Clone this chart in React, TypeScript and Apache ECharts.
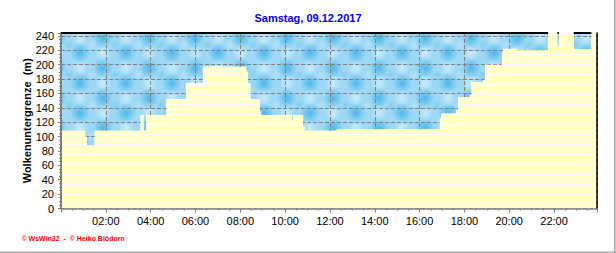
import React, { useEffect, useRef } from 'react';
import * as echarts from 'echarts';

// ---- data -----------------------------------------------------------
const TITLE = 'Samstag, 09.12.2017';
const Y_NAME = 'Wolkenuntergrenze  (m)';
const CREDIT = '\u00A9 WsWin32  -  \u00A9 Heiko Bl\u00F6dorn';

// change points of the cloud base (time of day) and the base height in m;
// null = no cloud base within range
const TIMES = [
  '00:00', '01:05', '01:09', '01:30', '03:33', '03:41', '03:48', '04:42',
  '05:35', '06:20', '08:16', '08:20', '08:27', '08:52', '08:56', '10:17',
  '10:21', '10:48', '10:52', '12:18', '16:54', '16:58', '17:38', '17:43',
  '18:14', '18:19', '18:50', '18:55', '19:41', '19:43', '20:19', '21:44',
  '22:09', '22:13', '22:53', '23:40', '23:55',
];
const CLOUD_BASE_M: (number | null)[] = [
  108, 100, 88, 108, 130, 108, 130, 152,
  174, 197, 190, 174, 152, 135, 130, 123,
  130, 114, 108, 110, 125, 132, 137, 155,
  158, 176, 179, 200, 218, 222, 220, null,
  226, null, 221, null, null,
];
const X_TICK_LABELS = ['02:00', '04:00', '06:00', '08:00', '10:00', '12:00', '14:00', '16:00', '18:00', '20:00', '22:00'];
const Y_TICK_LABELS = ['0', '20', '40', '60', '80', '100', '120', '140', '160', '180', '200', '220', '240'];

const Y_MAX = 244;
const X_END = '23:55';

const FONT = '"Liberation Sans", Arial, sans-serif';

function toHours(s: string): number {
  const [h, m] = s.split(':').map(Number);
  return h + m / 60;
}

function makeCloudTile(): HTMLCanvasElement {
  const W = 46, H = 30;
  const c = document.createElement('canvas');
  c.width = W;
  c.height = H;
  const ctx = c.getContext('2d')!;
  ctx.fillStyle = '#9ed8f5';
  ctx.fillRect(0, 0, W, H);
  const blobs: [number, number, number, number[], number][] = [
    [11, 8, 10, [52, 172, 230], 0.75],
    [34, 23, 10, [52, 172, 230], 0.75],
    [34, 8, 8, [218, 242, 253], 0.75],
    [11, 23, 8, [218, 242, 253], 0.75],
    [23, 15, 5, [110, 196, 238], 0.6],
    [0, 15, 5, [195, 232, 250], 0.6],
  ];
  for (const [bx, by, r, rgb, a] of blobs) {
    for (const dx of [-W, 0, W]) {
      for (const dy of [-H, 0, H]) {
        const x = bx + dx, y = by + dy;
        const g = ctx.createRadialGradient(x, y, 0, x, y, r);
        g.addColorStop(0, `rgba(${rgb[0]},${rgb[1]},${rgb[2]},${a})`);
        g.addColorStop(1, `rgba(${rgb[0]},${rgb[1]},${rgb[2]},0)`);
        ctx.fillStyle = g;
        ctx.fillRect(x - r, y - r, 2 * r, 2 * r);
      }
    }
  }
  return c;
}

function makeYellowTile(): HTMLCanvasElement {
  const c = document.createElement('canvas');
  c.width = 2;
  c.height = 5;
  const ctx = c.getContext('2d')!;
  ctx.fillStyle = '#ffffff';
  ctx.fillRect(0, 0, 2, 5);
  ctx.fillStyle = '#ffffc4';
  ctx.fillRect(0, 0, 1, 4);
  return c;
}

export default function App() {
  const ref = useRef<HTMLDivElement>(null);

  useEffect(() => {
    document.body.style.margin = '0';
    if (!ref.current) return;
    const chart = echarts.init(ref.current, null, { renderer: 'svg' });

    const xs = TIMES.map(toHours);
    const xMax = toHours(X_END);
    const fill = xs.map((t, i) => [t, CLOUD_BASE_M[i] == null ? Y_MAX : CLOUD_BASE_M[i]]);
    const top: (number | null)[][] = [];
    for (let i = 0; i < xs.length - 1; i++) {
      if (CLOUD_BASE_M[i] != null) {
        top.push([xs[i], Y_MAX], [xs[i + 1], Y_MAX]);
      } else {
        top.push([xs[i], null]);
      }
    }

    const cloudPattern = { image: makeCloudTile(), repeat: 'repeat' };
    const yellowPattern = { image: makeYellowTile(), repeat: 'repeat' };

    const xFmt = (v: number) => {
      const h = Math.round(v);
      if (Math.abs(v - h) > 1e-6) return '';
      const s = String(h).padStart(2, '0') + ':00';
      return X_TICK_LABELS.includes(s) ? s : '';
    };
    const yFmt = (v: number) => (Y_TICK_LABELS.includes(String(v)) ? String(v) : '');

    const grey = '#808080';
    const option: any = {
      animation: false,
      backgroundColor: '#ffffff',
      textStyle: { fontFamily: FONT },
      title: {
        text: TITLE,
        left: 'center',
        top: 7,
        textStyle: { color: '#0000ff', fontSize: 11, fontWeight: 'bold', fontFamily: FONT },
      },
      grid: { left: 61, right: 19, top: 33, bottom: 44.5 },
      xAxis: [
        {
          type: 'value', min: 0, max: xMax, interval: 2, position: 'bottom', z: 2,
          axisLine: { show: false }, axisTick: { show: false }, axisLabel: { show: false },
          splitLine: { show: true, lineStyle: { color: grey, type: [4, 2], width: 1 } },
        },
        {
          type: 'value', min: 0, max: xMax, interval: 2, position: 'bottom', z: 5,
          axisLine: { show: true, onZero: false, lineStyle: { color: grey, width: 1.5 } },
          axisTick: { show: true, length: 4, lineStyle: { color: grey } },
          minorTick: { show: true, splitNumber: 4, length: 2, lineStyle: { color: grey } },
          axisLabel: { formatter: xFmt, color: '#000', fontSize: 11, margin: 7, fontFamily: FONT },
          splitLine: { show: false },
        },
      ],
      yAxis: [
        {
          type: 'value', min: 0, max: Y_MAX, interval: 20, position: 'left', z: 2,
          axisLine: { show: false }, axisTick: { show: false }, axisLabel: { show: false },
          splitLine: { show: true, lineStyle: { color: grey, type: [4, 2], width: 1 } },
        },
        {
          type: 'value', min: 0, max: Y_MAX, interval: 20, position: 'left', z: 5,
          name: Y_NAME, nameLocation: 'middle', nameGap: 29, nameMoveOverlap: false,
          nameTextStyle: { color: '#000', fontSize: 11, fontWeight: 'bold', fontFamily: FONT },
          axisLine: { show: true, onZero: false, lineStyle: { color: grey, width: 2 } },
          axisTick: { show: true, length: 3, lineStyle: { color: grey } },
          minorTick: { show: true, splitNumber: 4, length: 2, lineStyle: { color: grey } },
          axisLabel: { formatter: yFmt, color: '#000', fontSize: 11, margin: 7, fontFamily: FONT, showMaxLabel: false },
          splitLine: { show: false },
        },
        {
          type: 'value', min: 0, max: Y_MAX, position: 'right', z: 5,
          axisLine: { show: true, onZero: false, lineStyle: { color: '#000', width: 1.5 } },
          axisTick: { show: false }, axisLabel: { show: false }, splitLine: { show: false },
        },
      ],
      series: [
        {
          type: 'line', name: 'Wolken', xAxisIndex: 0, yAxisIndex: 0, step: 'end',
          data: fill, symbol: 'none', silent: true, z: 1,
          lineStyle: { width: 0, opacity: 0 },
          areaStyle: { color: cloudPattern, opacity: 1, origin: 'end' },
        },
        {
          type: 'line', name: 'frei', xAxisIndex: 0, yAxisIndex: 0, step: 'end',
          data: fill, symbol: 'none', silent: true, z: 3,
          lineStyle: { width: 0, opacity: 0 },
          areaStyle: { color: yellowPattern, opacity: 1, origin: 'start' },
        },
        {
          type: 'line', name: 'Oberkante', xAxisIndex: 0, yAxisIndex: 0,
          data: top, symbol: 'none', silent: true, z: 6, clip: false, connectNulls: false,
          lineStyle: { color: '#000', width: 2 },
        },
      ],
      graphic: [
        { type: 'rect', silent: true, shape: { x: 614, y: 0, width: 1.5, height: 253 }, style: { fill: '#a0a0a0' } },
        { type: 'rect', silent: true, shape: { x: 0, y: 251.5, width: 616, height: 1.3 }, style: { fill: '#a0a0a0' } },
        {
          type: 'text', silent: true, x: 21.5, y: 238.3,
          style: { text: CREDIT, fill: '#ff0000', fontSize: 7, fontWeight: 'bold', fontFamily: FONT, verticalAlign: 'middle' },
        },
      ],
    };

    chart.setOption(option);
    return () => chart.dispose();
  }, []);

  return <div ref={ref} style={{ width: 616, height: 253, position: 'absolute', left: 0, top: 0 }} />;
}
